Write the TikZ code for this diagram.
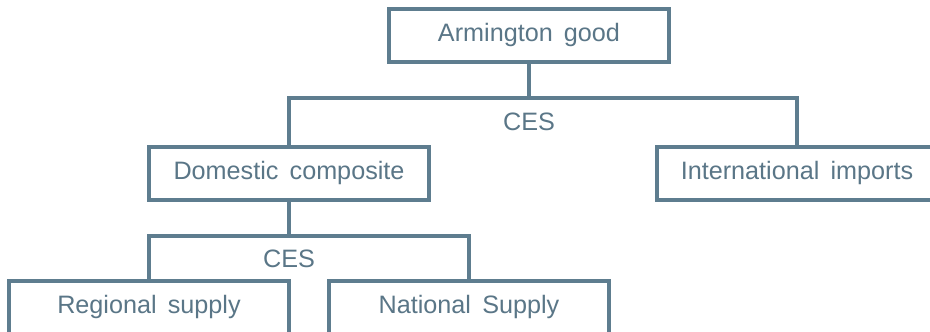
\documentclass[tikz,border=0pt]{standalone}
\usepackage{fontspec}
\setmainfont{Liberation Sans}[WordSpace={1.6,1,1}]
\definecolor{treeline}{RGB}{94,125,143}
\definecolor{treetext}{RGB}{90,118,135}

\begin{document}
\begin{tikzpicture}[x=0.03cm, y=-0.03cm,
    goodbox/.style={draw=treeline, line width=3pt, fill=white,
      minimum width=8.4cm, minimum height=1.59cm, inner sep=0pt,
      text height=0.5cm, text depth=0.12cm,
      text=treetext, font=\fontsize{21.5}{25}\selectfont},
    nestlabel/.style={text=treetext, font=\fontsize{21.5}{25}\selectfont},
    link/.style={draw=treeline, line width=3pt}]
  \clip (0,0) rectangle (930,331);

  % top level
  \node[goodbox] (arm) at (529,35.5) {Armington good};
  \node[goodbox] (dom) at (289,173.5) {Domestic composite};
  \node[goodbox] (imp) at (797,173.5) {International imports};
  \coordinate (split1) at (529,98);
  \node[nestlabel] (ces1) at (529,122) {CES};

  \draw[link] (arm) -- (split1);
  \draw[link] (dom.north) |- (split1) -| (imp.north);

  % domestic nest
  \node[goodbox] (reg) at (149,307.5) {Regional supply};
  \node[goodbox] (nat) at (469,307.5) {National Supply};
  \coordinate (split2) at (289,236);
  \node[nestlabel] (ces2) at (289,259) {CES};

  \draw[link] (dom) -- (split2);
  \draw[link] (reg.north) |- (split2) -| (nat.north);
\end{tikzpicture}
\end{document}
